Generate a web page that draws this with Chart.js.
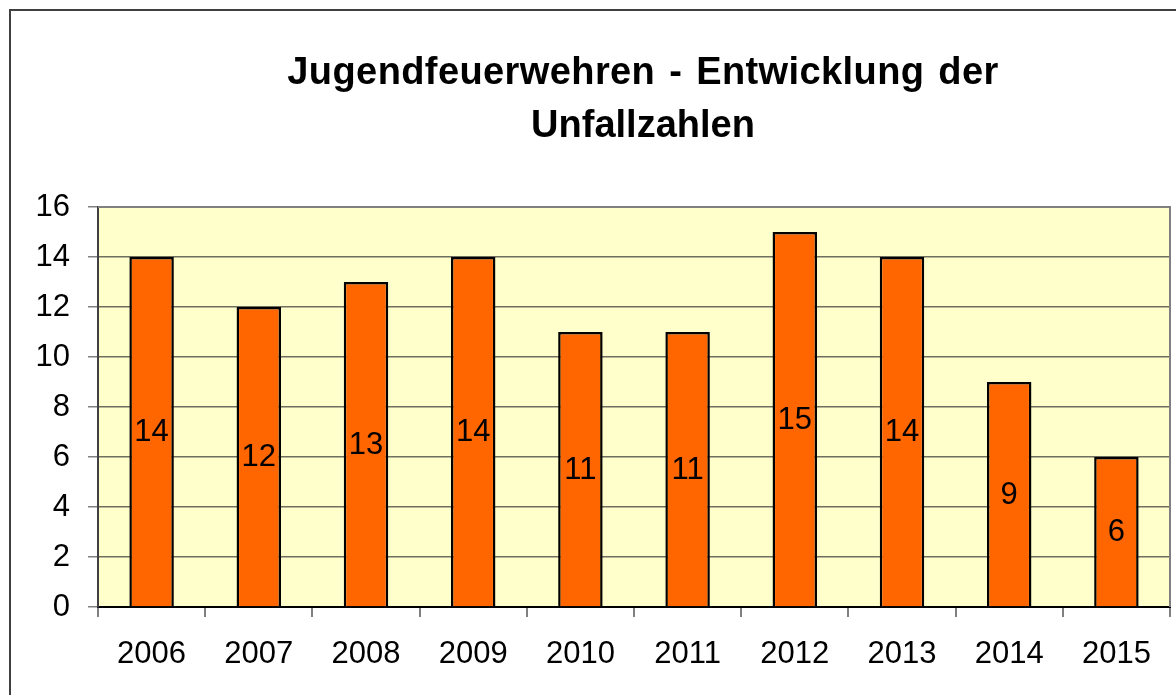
<!DOCTYPE html>
<html>
<head>
<meta charset="utf-8">
<script src="https://cdn.jsdelivr.net/npm/chart.js@4/dist/chart.umd.min.js"></script>
<style>
  html, body { margin: 0; padding: 0; background: #ffffff; }
  canvas { display: block; }
</style>
</head>
<body>
<canvas id="c" width="1176" height="695"></canvas>
<script>
const categories = ['2006', '2007', '2008', '2009', '2010', '2011', '2012', '2013', '2014', '2015'];
const accidents = [14, 12, 13, 14, 11, 11, 15, 14, 9, 6];
const titleLines = ['Jugendfeuerwehren - Entwicklung der', 'Unfallzahlen'];
const yTicks = [0, 2, 4, 6, 8, 10, 12, 14, 16];

const FONT = '"Liberation Sans", Arial, Helvetica, sans-serif';

const decorPlugin = {
  id: 'decor',
  beforeDraw(chart) {
    const { ctx, chartArea: a } = chart;
    ctx.save();
    ctx.fillStyle = '#ffffff';
    ctx.fillRect(0, 0, chart.width, chart.height);
    ctx.fillStyle = '#FFFFCC';
    ctx.fillRect(a.left, a.top, a.right - a.left, a.bottom - a.top);
    // outer frame
    ctx.strokeStyle = '#404040';
    ctx.lineWidth = 2;
    ctx.strokeRect(10, 10, chart.width + 20, chart.height + 20);
    // title (two centred lines)
    ctx.fillStyle = '#000000';
    ctx.font = 'bold 38px ' + FONT;
    ctx.textAlign = 'center';
    ctx.textBaseline = 'alphabetic';
    const cx = 643;
    const baselines = [84, 137];
    titleLines.forEach((t, i) => {
      try {
        ctx.letterSpacing = i === 0 ? '0.4px' : '0px';
        ctx.wordSpacing = i === 0 ? '3px' : '0px';
      } catch (e) {}
      ctx.fillText(t, cx, baselines[i]);
    });
    ctx.restore();
  },
  afterDatasetsDraw(chart) {
    const { ctx, chartArea: a } = chart;
    ctx.save();
    // top & right plot border
    ctx.strokeStyle = '#808080';
    ctx.lineWidth = 2;
    ctx.beginPath();
    ctx.moveTo(a.left, a.top);
    ctx.lineTo(a.right, a.top);
    ctx.lineTo(a.right, a.bottom);
    ctx.stroke();
    // data labels centred in bars
    const meta = chart.getDatasetMeta(0);
    const ds = chart.data.datasets[0];
    ctx.fillStyle = '#000000';
    ctx.font = '31px ' + FONT;
    ctx.textAlign = 'center';
    ctx.textBaseline = 'middle';
    meta.data.forEach((bar, i) => {
      const p = bar.getProps(['x', 'y', 'base'], true);
      ctx.fillText(String(ds.data[i]), p.x, (p.y + p.base) / 2 + 1);
    });
    ctx.restore();
  }
};

new Chart(document.getElementById('c'), {
  type: 'bar',
  data: {
    labels: categories,
    datasets: [{
      data: accidents,
      backgroundColor: '#FF6600',
      borderColor: '#000000',
      borderWidth: 2.5,
      borderSkipped: 'start',
      barPercentage: 0.415,
      categoryPercentage: 1.0
    }]
  },
  options: {
    responsive: false,
    devicePixelRatio: 1,
    animation: false,
    layout: { padding: { left: 0, right: 6, top: 207, bottom: 0 } },
    plugins: {
      legend: { display: false },
      tooltip: { enabled: false },
      title: { display: false }
    },
    scales: {
      x: {
        offset: true,
        grid: {
          offset: true,
          drawOnChartArea: false,
          drawTicks: true,
          tickLength: 10,
          color: '#808080',
          lineWidth: 2
        },
        border: { display: true, color: '#000000', width: 2 },
        ticks: {
          color: '#000000',
          font: { family: FONT, size: 31 },
          padding: 19,
          maxRotation: 0,
          autoSkip: false
        },
        afterFit(scale) { scale.height = 88; }
      },
      y: {
        min: 0,
        max: 16,
        afterBuildTicks(scale) { scale.ticks = yTicks.map(v => ({ value: v })); },
        grid: {
          color: '#6f6f60',
          lineWidth: 1.5,
          drawTicks: true,
          tickLength: 10,
          tickColor: '#808080'
        },
        border: { display: true, color: '#404040', width: 2 },
        ticks: {
          color: '#000000',
          font: { family: FONT, size: 31 },
          padding: 18
        },
        afterFit(scale) { scale.width = 98; }
      }
    }
  },
  plugins: [decorPlugin]
});
</script>
</body>
</html>
